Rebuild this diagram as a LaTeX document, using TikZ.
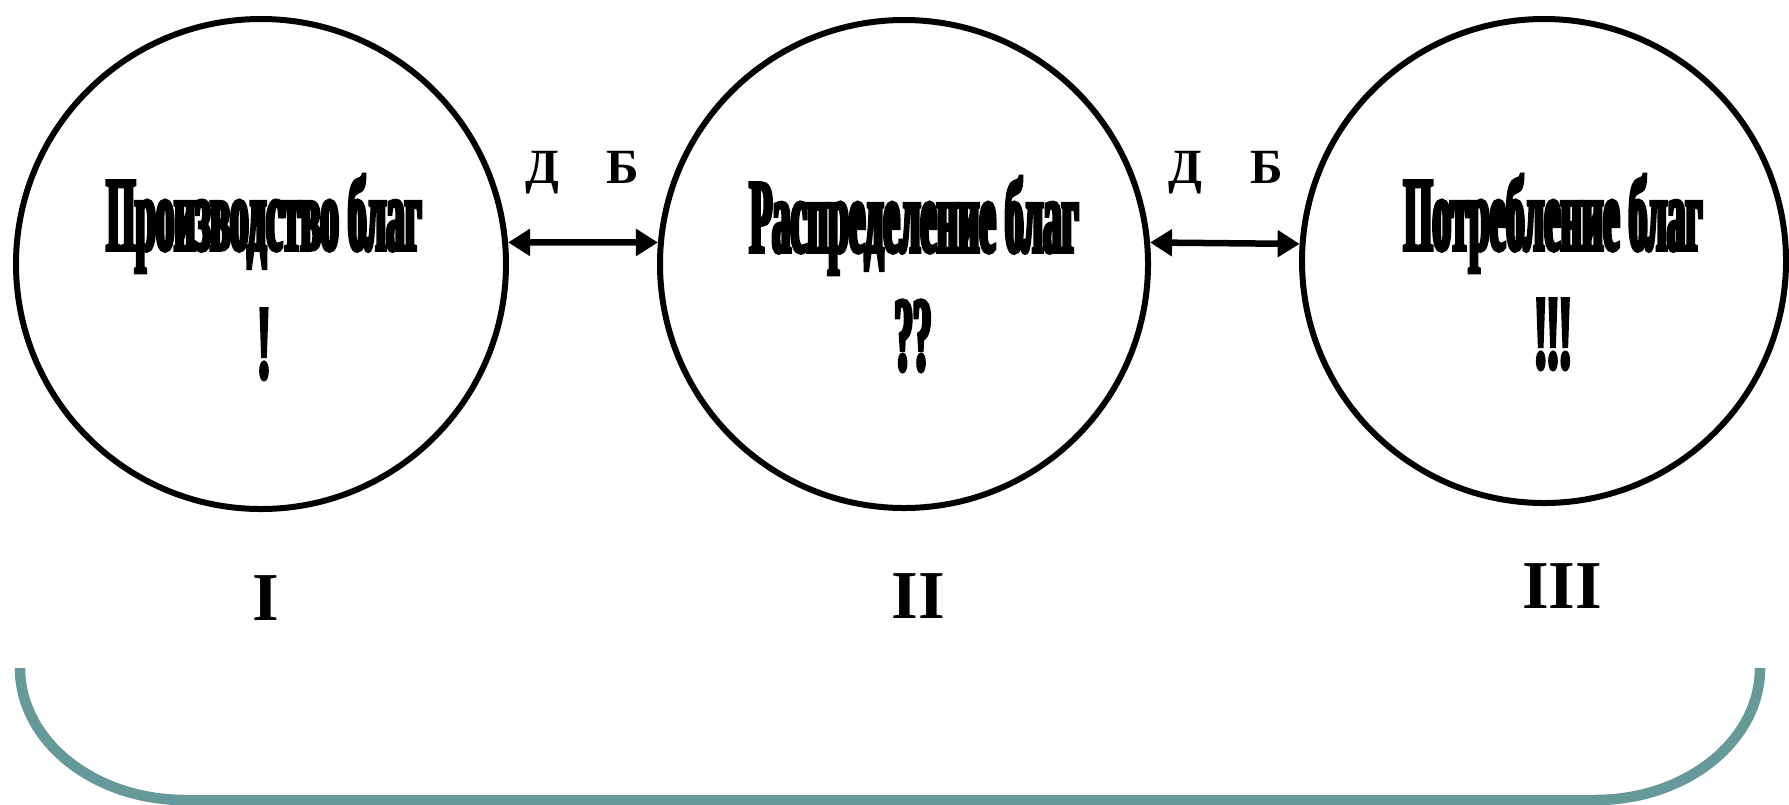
\documentclass[tikz,border=0pt]{standalone}
\usepackage{fontspec}
\setmainfont{Liberation Serif}
\newfontfamily\condfont{Liberation Serif}[FakeStretch=0.35,FakeBold=3.5]
\usetikzlibrary{arrows.meta}
\definecolor{bracketteal}{RGB}{102,153,153}
\tikzset{
  ring/.style={circle,draw=black,line width=0.6mm,inner sep=0pt},
  bigtext/.style={anchor=base,inner sep=0pt,font=\condfont\bfseries\fontsize{30}{36}\selectfont},
  flowlabel/.style={anchor=base,inner sep=0pt,font=\bfseries\fontsize{14}{16}\selectfont},
  stagelabel/.style={anchor=base,inner sep=0pt,font=\bfseries\fontsize{19.5}{23}\selectfont},
  twoway/.style={line width=0.65mm,{Triangle[length=2.2mm,width=2.6mm]}-{Triangle[length=2.2mm,width=2.6mm]}},
  bracketline/.style={draw=bracketteal,line width=1.05mm}
}
\begin{document}
\begin{tikzpicture}[x=0.1mm,y=-0.1mm]
\useasboundingbox (0,0) rectangle (1789,804);
\fill[white] (0,0) rectangle (1789,804);
% circles
\node[ring,minimum size=49.0mm] (c1) at (261,264) {};
\node[ring,minimum size=48.8mm] (c2) at (904,264) {};
\node[ring,minimum size=48.4mm] (c3) at (1544,261) {};
% texts
\node[bigtext] (t1) at (264,250) {Производство благ};
\node[bigtext] (e1) at (264,378) {!};
\node[bigtext] (t2) at (914,252) {Распределение благ};
\node[bigtext] (e2) at (913,370) {??};
\node[bigtext] (t3) at (1553,250) {Потребление благ};
\node[bigtext] (e3) at (1553,368) {!!!};
% arrows
\draw[twoway] (c1.5) -- (c2.175);
\draw[twoway] (c2.5) -- (c3.176);
\node[flowlabel] (d1) at (542,183) {Д};
\node[flowlabel] (b1) at (623,183) {Б};
\node[flowlabel] (d2) at (1185,183) {Д};
\node[flowlabel] (b2) at (1267,183) {Б};
% stage numerals
\node[stagelabel] (n1) at (266,620) {I};
\node[stagelabel] (n2) at (918,618) {II};
\node[stagelabel] (n3) at (1562,608) {III};
% bracket
\draw[bracketline] (20,668) arc[start angle=180,end angle=90,x radius=165,y radius=132]
  -- (1595,800) arc[start angle=90,end angle=0,x radius=165,y radius=132];
\end{tikzpicture}
\end{document}
